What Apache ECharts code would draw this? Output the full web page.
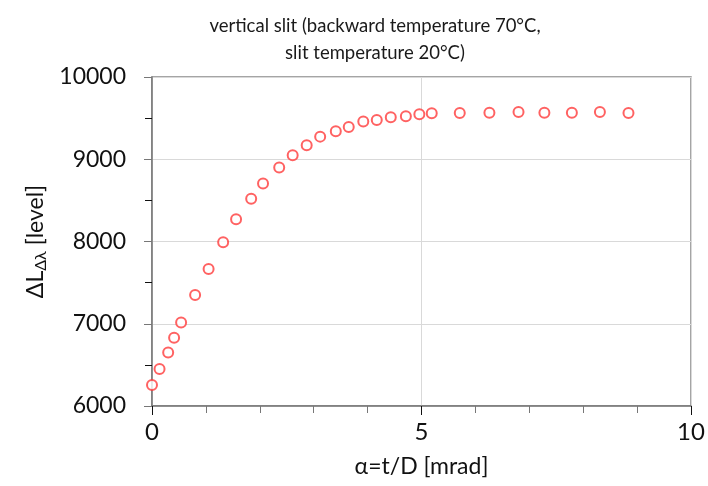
<!DOCTYPE html>
<html lang="en">
<head>
    <meta charset="UTF-8">
    <title>vertical slit</title>
    <script src="https://cdn.jsdelivr.net/npm/echarts@6/dist/echarts.min.js"></script>
</head>
<body style="margin:0;">
<div id="main" style="width: 708px;height:486px;"></div>
<script type="text/javascript">
    // alpha = t/D [mrad]
    var alpha = [0.00, 0.14, 0.30, 0.41, 0.54, 0.80, 1.05, 1.32, 1.56, 1.84,
                 2.06, 2.36, 2.61, 2.87, 3.12, 3.41, 3.65, 3.92, 4.17, 4.43,
                 4.71, 4.96, 5.19, 5.71, 6.26, 6.80, 7.28, 7.79, 8.31, 8.84];
    // delta L level
    var level = [6255, 6450, 6650, 6830, 7015, 7350, 7665, 7990, 8270, 8520,
                 8705, 8900, 9050, 9170, 9275, 9340, 9392, 9460, 9478, 9510,
                 9522, 9548, 9560, 9562, 9566, 9574, 9566, 9566, 9574, 9562];
    var titleLines = ['vertical slit (backward temperature 70°C,', 'slit temperature 20°C)'];

    var points = alpha.map(function (a, i) { return [a, level[i]]; });

    var myChart = echarts.init(document.getElementById('main'));
    var font = 'Lato, "Open Sans", sans-serif';

    var option = {
        animation: false,
        title: {
            text: titleLines.join('\n'),
            left: 370,
            textAlign: 'center',
            top: 8,
            textStyle: {fontFamily: font, fontSize: 18.5, fontWeight: 'normal', color: '#1a1a1a', lineHeight: 27}
        },
        grid: {
            left: 152, right: 17, top: 77, bottom: 80,
            show: true, borderColor: '#888', borderWidth: 1.5
        },
        xAxis: {
            type: 'value',
            min: 0, max: 10, interval: 5,
            name: 'α=t/D [mrad]',
            nameLocation: 'middle',
            nameGap: 49,
            nameTextStyle: {fontFamily: font, fontSize: 23, color: '#111'},
            axisLine: {lineStyle: {color: '#777', width: 1.5}},
            axisTick: {show: true, length: 9, lineStyle: {color: '#111'}},
            minorTick: {show: true, splitNumber: 5, length: 7, lineStyle: {color: '#777'}},
            axisLabel: {fontFamily: font, fontSize: 24, color: '#111', margin: 14},
            splitLine: {show: true, lineStyle: {color: '#d9d9d9'}}
        },
        yAxis: {
            type: 'value',
            min: 6000, max: 10000, interval: 1000,
            name: '{a|ΔL}{s|Δλ}{a| [level]}',
            nameLocation: 'middle',
            nameGap: 103,
            nameRotate: 90,
            nameTextStyle: {
                rich: {
                    a: {fontFamily: font, fontSize: 23, color: '#111'},
                    s: {fontFamily: font, fontSize: 16, color: '#111', padding: [10, 0, 0, 0]}
                }
            },
            axisLine: {show: true, lineStyle: {color: '#777', width: 1.5}},
            axisTick: {show: true, length: 8, lineStyle: {color: '#777'}},
            minorTick: {show: true, splitNumber: 2, length: 7, lineStyle: {color: '#111'}},
            axisLabel: {
                fontFamily: font, fontSize: 23, color: '#111', margin: 26,
                formatter: function (v) { return String(v); }
            },
            splitLine: {show: true, lineStyle: {color: '#d9d9d9'}}
        },
        series: [{
            type: 'scatter',
            data: points,
            symbol: 'emptyCircle',
            symbolSize: 10,
            itemStyle: {color: '#ff3b3b', borderColor: '#ff3b3b', borderWidth: 1.3}
        }]
    };
    myChart.setOption(option);
</script>
</body>
</html>
